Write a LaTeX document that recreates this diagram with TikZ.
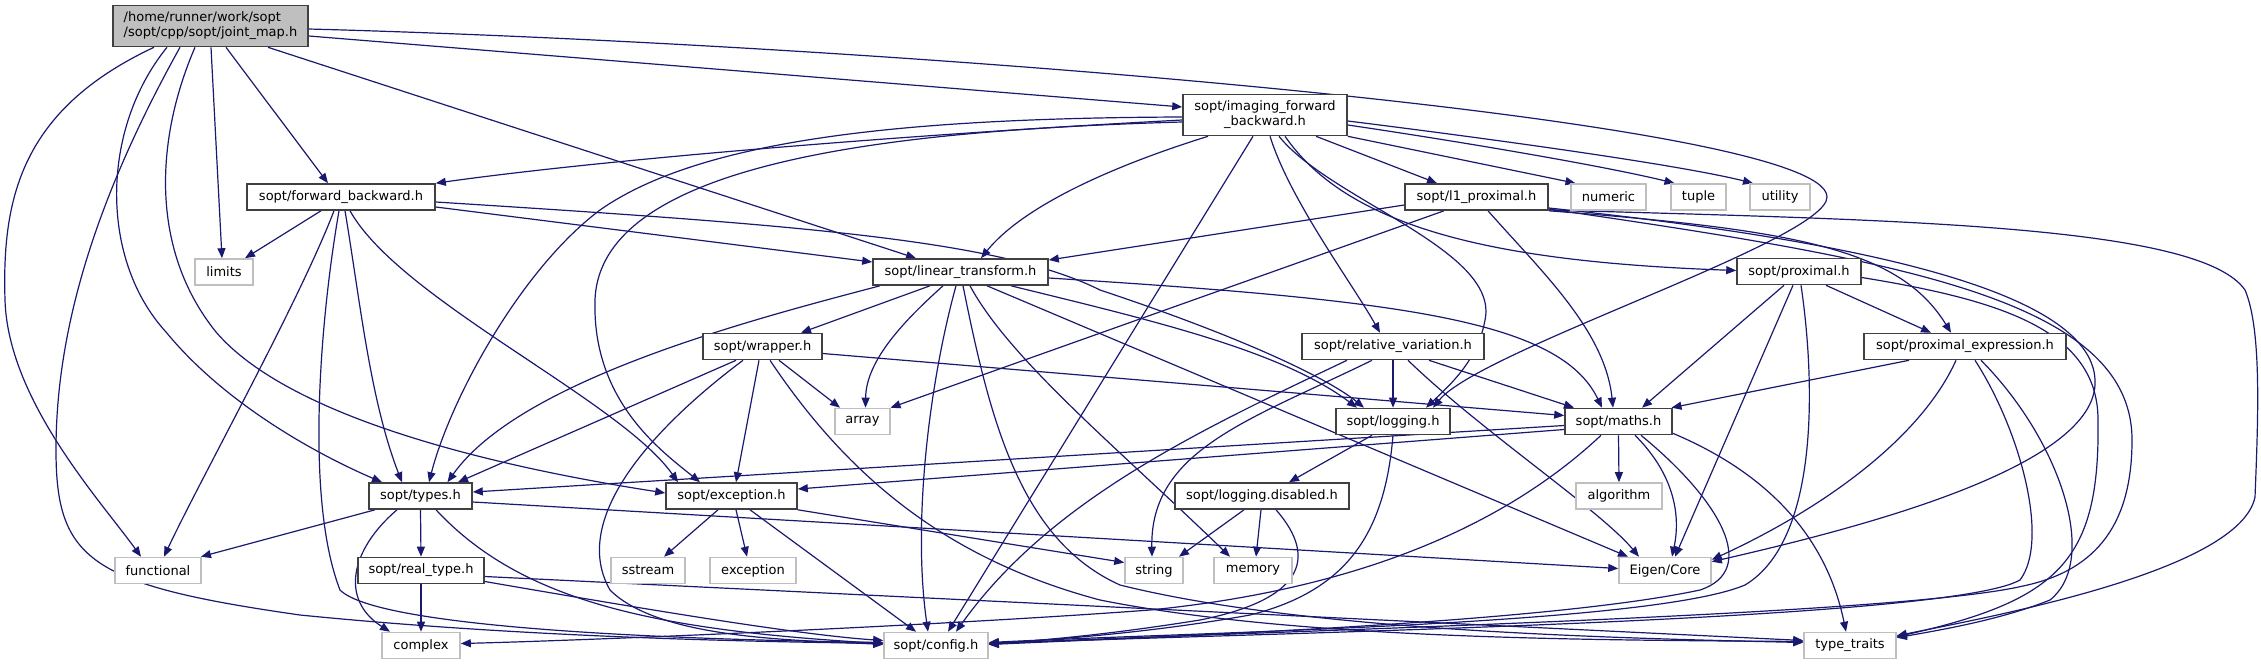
\documentclass[tikz,border=0pt]{standalone}
\usepackage{fontspec}
\setmainfont{DejaVu Sans}
\usetikzlibrary{arrows.meta,calc}
\definecolor{edgecol}{HTML}{191970}
\definecolor{docborder}{HTML}{404040}
\definecolor{extborder}{HTML}{BFBFBF}
\definecolor{rootfill}{HTML}{BFBFBF}
\newcommand\nodefont{\fontsize{13pt}{15pt}\selectfont}
\pgfdeclarelayer{bg}
\pgfsetlayers{bg,main}
\tikzset{
  nd/.style={draw=docborder, fill=white, line width=1.6pt, minimum height=26pt, inner sep=0pt, font=\nodefont},
  ext/.style={nd, draw=extborder},
  rootnode/.style={nd, fill=rootfill, align=left, minimum height=41pt},
  edge/.style={draw=edgecol, line width=1.2pt, -{Triangle[length=10pt,width=8pt]}},
}
\begin{document}
\begin{tikzpicture}[x=1pt,y=-1pt]
\useasboundingbox (0,0) rectangle (2261,664);
% nodes
\node[rootnode, minimum width=195pt] (root) at (210.5,26) {/home/runner/work/sopt\\/sopt/cpp/sopt/joint\_map.h};
\node[nd, align=center, minimum width=164pt, minimum height=41pt] (ifb) at (1265,115) {sopt/imaging\_forward\\\_backward.h};
\node[nd, minimum width=188pt] (fb) at (341,197) {sopt/forward\_backward.h};
\node[nd, minimum width=143pt] (l1) at (1476.5,197) {sopt/l1\_proximal.h};
\node[ext, minimum width=75pt] (numeric) at (1608.5,197) {numeric};
\node[ext, minimum width=55pt] (tuple) at (1698.5,197) {tuple};
\node[ext, minimum width=60pt] (utility) at (1780,197) {utility};
\node[ext, minimum width=58pt] (limits) at (224,272) {limits};
\node[nd, minimum width=175pt] (lt) at (960.5,272) {sopt/linear\_transform.h};
\node[nd, minimum width=124pt] (prox) at (1799,271.5) {sopt/proximal.h};
\node[nd, minimum width=119pt] (wrapper) at (762.5,346.5) {sopt/wrapper.h};
\node[nd, minimum width=182pt] (relvar) at (1393,346.5) {sopt/relative\_variation.h};
\node[nd, minimum width=202pt] (proxexpr) at (1965,346.5) {sopt/proximal\_expression.h};
\node[ext, minimum width=55pt] (array) at (862.5,421.5) {array};
\node[nd, minimum width=114pt] (logging) at (1393,421.5) {sopt/logging.h};
\node[nd, minimum width=107pt] (maths) at (1618.5,421.5) {sopt/maths.h};
\node[nd, minimum width=103pt] (types) at (420.5,496) {sopt/types.h};
\node[nd, minimum width=131pt] (exch) at (731.5,496) {sopt/exception.h};
\node[nd, minimum width=174pt] (logdis) at (1262,496) {sopt/logging.disabled.h};
\node[ext, minimum width=86pt] (algorithm) at (1619,496) {algorithm};
\node[ext, minimum width=86pt] (functional) at (158,570.5) {functional};
\node[nd, minimum width=126pt] (realtype) at (421,570.5) {sopt/real\_type.h};
\node[ext, minimum width=74pt] (sstream) at (648,570.5) {sstream};
\node[ext, minimum width=86pt] (excstd) at (753,570.5) {exception};
\node[ext, minimum width=58pt] (string) at (1154,570.5) {string};
\node[ext, minimum width=78pt] (memory) at (1253,570.5) {memory};
\node[ext, minimum width=92pt] (eigen) at (1665,570.5) {Eigen/Core};
\node[ext, minimum width=78pt] (complex) at (421,645.5) {complex};
\node[ext, minimum width=104pt] (config) at (936,645.5) {sopt/config.h};
\node[ext, minimum width=92pt] (typetraits) at (1850,645.5) {type\_traits};
\begin{pgfonlayer}{bg}
% root
\draw[edge] ($(root.east)+(0,10)$) -- ($(ifb.west)+(0,-8)$);
\draw[edge] ($(root.east)+(0,3)$) .. controls (900,45) and (1827,120) .. (1827,197) .. controls (1827,240) and (1480,350) .. ($(logging.north)+(40,0)$);
\draw[edge] ($(root.south)+(57.5,0)$) -- ($(lt.north)+(-44.5,0)$);
\draw[edge] ($(root.south)+(15.5,0)$) -- ($(fb.north)+(-13,0)$);
\draw[edge] ($(root.south)+(0.5,0)$) -- ($(limits.north)+(-2,0)$);
\draw[edge] ($(root.south)+(-56.5,0)$) .. controls (20,110) and (2,200) .. (5,300) .. controls (8,400) and (100,500) .. ($(functional.north)+(-17,0)$);
\draw[edge] ($(root.south)+(-30.5,0)$) .. controls (95,200) and (56,330) .. (56,450) .. controls (56,560) and (90,585) .. (300,615) .. controls (550,640) and (800,642) .. ($(config.west)+(0,-2)$);
\draw[edge] ($(root.south)+(-43.5,0)$) .. controls (100,130) and (100,260) .. (166,332) .. controls (230,410) and (330,460) .. ($(types.north)+(-38.5,0)$);
\draw[edge] ($(root.south)+(-15.5,0)$) .. controls (155,140) and (150,250) .. (216,332) .. controls (300,430) and (550,475) .. ($(exch.west)+(0,-3)$);
% forward_backward
\draw[edge] ($(fb.south)+(-20,0)$) -- ($(limits.north)+(21,0)$);
\draw[edge] ($(fb.south)+(-7,0)$) .. controls (300,300) and (200,480) .. ($(functional.north)+(6,0)$);
\draw[edge] ($(fb.south)+(-2,0)$) .. controls (320,320) and (305,500) .. (340,590) .. controls (380,630) and (700,640) .. ($(config.west)+(0,-3)$);
\draw[edge] ($(fb.south)+(4,0)$) .. controls (360,300) and (370,400) .. ($(types.north)+(-18.5,0)$);
\draw[edge] ($(fb.south)+(9,0)$) .. controls (400,300) and (620,400) .. ($(exch.north)+(-53.5,0)$);
\draw[edge] ($(fb.east)+(0,10)$) -- ($(lt.west)+(0,-10)$);
\draw[edge] ($(fb.east)+(0,5)$) .. controls (800,225) and (1000,240) .. (1100,290) .. controls (1250,340) and (1330,380) .. ($(logging.north)+(-29,0)$);
% imaging_forward_backward
\draw[edge] ($(ifb.west)+(0,5)$) .. controls (900,135) and (600,160) .. (fb.north east);
\draw[edge] ($(ifb.west)+(0,2)$) .. controls (900,118) and (700,140) .. (600,210) .. controls (520,270) and (450,400) .. ($(types.north)+(8.5,0)$);
\draw[edge] ($(ifb.west)+(0,7)$) .. controls (900,130) and (600,160) .. (595,300) .. controls (592,400) and (660,450) .. ($(exch.north)+(-31.5,0)$);
\draw[edge] ($(ifb.south)+(-57,0)$) .. controls (1100,170) and (1020,210) .. ($(lt.north)+(20.5,0)$);
\draw[edge] ($(ifb.south)+(-12,0)$) -- ($(config.north)+(12,0)$);
\draw[edge] ($(ifb.south)+(5,0)$) .. controls (1290,200) and (1350,280) .. ($(relvar.north)+(-13,0)$);
\draw[edge] ($(ifb.south)+(14,0)$) .. controls (1330,200) and (1500,250) .. (1485,320) .. controls (1478,360) and (1450,385) .. ($(logging.north)+(33,0)$);
\draw[edge] ($(ifb.south)+(20,0)$) .. controls (1350,230) and (1500,262) .. ($(prox.west)+(0,-1)$);
\draw[edge] ($(ifb.south)+(51,0)$) -- ($(l1.north)+(-39.5,0)$);
\draw[edge] (ifb.south east) -- ($(numeric.north)+(-33,0)$);
\draw[edge] ($(ifb.east)+(0,10)$) .. controls (1450,140) and (1600,165) .. ($(tuple.north)+(-24,0)$);
\draw[edge] ($(ifb.east)+(0,6)$) .. controls (1500,140) and (1680,165) .. ($(utility.north)+(-27,0)$);
% l1_proximal
\draw[edge] ($(l1.west)+(0,8)$) -- ($(lt.east)+(0,-12)$);
\draw[edge] ($(l1.south)+(-32.5,0)$) -- ($(array.north)+(28,0)$);
\draw[edge] ($(l1.south)+(11.5,0)$) .. controls (1540,270) and (1605,330) .. ($(maths.north)+(-5.5,0)$);
\draw[edge] (l1.south east) .. controls (1800,230) and (1900,250) .. ($(proxexpr.north)+(-14,0)$);
\draw[edge] ($(l1.east)+(0,11)$) .. controls (1850,240) and (2100,290) .. (2095,385) .. controls (2090,470) and (1850,530) .. ($(eigen.north east)+(0,5)$);
\draw[edge] ($(l1.east)+(0,12)$) .. controls (1900,260) and (2132,300) .. (2132,440) .. controls (2132,520) and (2100,570) .. (2023,586) .. controls (1900,615) and (1300,630) .. ($(config.east)+(0,-2)$);
\draw[edge] ($(l1.east)+(0,13)$) .. controls (1900,220) and (2200,225) .. (2245,290) .. controls (2262,330) and (2258,420) .. (2255,497) .. controls (2240,570) and (2000,615) .. ($(typetraits.north east)+(0,4)$);
% proximal
\draw[edge] ($(prox.south)+(-15,0)$) -- ($(maths.north)+(23.5,0)$);
\draw[edge] ($(prox.south)+(-6,0)$) -- ($(eigen.north)+(10,0)$);
\draw[edge] ($(prox.south)+(2,0)$) .. controls (1815,380) and (1820,540) .. (1745,585) .. controls (1650,625) and (1200,632) .. ($(config.east)+(0,-3)$);
\draw[edge] ($(prox.south)+(27,0)$) -- ($(proxexpr.north)+(-34,0)$);
\draw[edge] ($(prox.east)+(0,6)$) .. controls (2000,300) and (2098,330) .. (2098,420) .. controls (2100,560) and (2060,600) .. ($(typetraits.north east)+(0,5)$);
% proximal_expression
\draw[edge] ($(proxexpr.south)+(-56,0)$) -- ($(maths.north)+(53,0)$);
\draw[edge] ($(proxexpr.south)+(-9,0)$) .. controls (1920,440) and (1820,510) .. ($(eigen.north east)+(0,3)$);
\draw[edge] ($(proxexpr.south)+(10,0)$) .. controls (2020,430) and (2050,540) .. (2020,580) .. controls (1950,620) and (1300,632) .. ($(config.east)+(0,-2)$);
\draw[edge] ($(proxexpr.south)+(16,0)$) .. controls (2060,440) and (2100,560) .. (2050,600) .. controls (2000,620) and (1940,630) .. ($(typetraits.north east)+(0,6)$);
% maths
\draw[edge] ($(maths.west)+(0,4)$) -- ($(types.east)+(0,-4)$);
\draw[edge] ($(maths.west)+(0,8)$) -- ($(exch.east)+(0,-7)$);
\draw[edge] ($(maths.south)+(-17.5,0)$) .. controls (1500,530) and (1350,590) .. (1150,610) .. controls (950,625) and (600,640) .. ($(complex.east)+(0,-2)$);
\draw[edge] (maths.south) -- (algorithm.north);
\draw[edge] ($(maths.south)+(16.5,0)$) .. controls (1670,470) and (1682,510) .. ($(eigen.north)+(7,0)$);
\draw[edge] ($(maths.south)+(22.5,0)$) .. controls (1720,500) and (1760,570) .. (1700,590) .. controls (1550,622) and (1200,635) .. ($(config.east)+(0,-1)$);
\draw[edge] ($(maths.south east)+(0,-2)$) .. controls (1760,470) and (1825,530) .. ($(typetraits.north)+(-4,0)$);
% relative_variation
\draw[edge] (relvar.south) -- (logging.north);
\draw[edge] ($(relvar.south)+(36,0)$) -- ($(maths.north)+(-44.5,0)$);
\draw[edge] ($(relvar.south)+(15,0)$) .. controls (1480,430) and (1600,510) .. ($(eigen.north)+(-26,0)$);
\draw[edge] ($(relvar.south)+(-21,0)$) .. controls (1250,420) and (1150,450) .. ($(string.north)+(-2,0)$);
\draw[edge] ($(relvar.south)+(-46,0)$) .. controls (1200,430) and (1050,500) .. ($(config.north)+(20,0)$);
% logging
\draw[edge] ($(logging.south)+(-21,0)$) -- ($(logdis.north)+(27,0)$);
\draw[edge] (logging.south) .. controls (1385,530) and (1350,590) .. (1250,615) .. controls (1150,633) and (1050,640) .. ($(config.east)+(0,-2)$);
% logging.disabled
\draw[edge] ($(logdis.south)+(-18,0)$) -- ($(string.north)+(25,0)$);
\draw[edge] ($(logdis.south)+(-1,0)$) -- ($(memory.north)+(3,0)$);
\draw[edge] ($(logdis.south)+(14,0)$) .. controls (1320,560) and (1300,600) .. (1200,620) .. controls (1100,636) and (1040,640) .. ($(config.east)+(0,-1)$);
% wrapper
\draw[edge] ($(wrapper.south)+(-26.5,0)$) -- ($(types.north)+(37.5,0)$);
\draw[edge] ($(wrapper.south)+(-19.5,0)$) .. controls (650,430) and (570,520) .. (610,590) .. controls (660,640) and (800,640) .. ($(config.west)+(0,-1)$);
\draw[edge] ($(wrapper.south)+(-3.5,0)$) -- ($(exch.north)+(4.5,0)$);
\draw[edge] ($(wrapper.south)+(7.5,0)$) .. controls (850,480) and (950,560) .. (1100,600) .. controls (1300,640) and (1600,640) .. ($(typetraits.west)+(0,-4)$);
\draw[edge] ($(wrapper.south)+(16.5,0)$) -- ($(array.north)+(-22.5,0)$);
\draw[edge] ($(wrapper.east)+(0,7)$) -- ($(maths.west)+(0,-6)$);
% linear_transform
\draw[edge] ($(lt.south)+(-80.5,0)$) .. controls (750,320) and (520,380) .. ($(types.north)+(27,0)$);
\draw[edge] ($(lt.south)+(-30.5,0)$) -- ($(wrapper.north)+(38.5,0)$);
\draw[edge] ($(lt.south)+(-17.5,0)$) .. controls (905,320) and (866,360) .. ($(array.north)+(3,0)$);
\draw[edge] ($(lt.south)+(-4.5,0)$) .. controls (930,380) and (912,520) .. ($(config.north)+(-8,0)$);
\draw[edge] ($(lt.south)+(2.5,0)$) .. controls (990,420) and (1020,540) .. (1120,585) .. controls (1300,630) and (1600,638) .. ($(typetraits.west)+(0,-3)$);
\draw[edge] ($(lt.south)+(9.5,0)$) .. controls (1010,360) and (1120,450) .. ($(memory.north)+(-23,0)$);
\draw[edge] ($(lt.south)+(26.5,0)$) -- ($(eigen.north)+(-37,0)$);
\draw[edge] ($(lt.south)+(50.5,0)$) .. controls (1150,320) and (1280,350) .. ($(logging.north)+(-36,0)$);
\draw[edge] ($(lt.east)+(0,6)$) .. controls (1400,300) and (1560,320) .. ($(maths.north)+(-16.5,0)$);
% types
\draw[edge] ($(types.south)+(-45.5,0)$) -- ($(functional.north)+(43,0)$);
\draw[edge] ($(types.south)+(-23.5,0)$) .. controls (350,550) and (340,600) .. ($(complex.north)+(-31,0)$);
\draw[edge] (types.south) -- (realtype.north);
\draw[edge] ($(types.south)+(15.5,0)$) .. controls (520,600) and (650,630) .. ($(config.west)+(0,-2)$);
\draw[edge] ($(types.east)+(0,6)$) -- ($(eigen.west)+(0,-2)$);
% real_type
\draw[edge] (realtype.south) -- (complex.north);
\draw[edge] ($(realtype.east)+(0,11)$) .. controls (650,610) and (800,635) .. ($(config.west)+(0,-5)$);
\draw[edge] ($(realtype.east)+(0,6)$) -- ($(typetraits.west)+(0,-5)$);
% exception.h
\draw[edge] ($(exch.south)+(-13.5,0)$) -- ($(sstream.north)+(16,0)$);
\draw[edge] ($(exch.south)+(4.5,0)$) -- ($(excstd.north)+(-6,0)$);
\draw[edge] ($(exch.south)+(18.5,0)$) -- ($(config.north)+(-20,0)$);
\draw[edge] (exch.south east) -- ($(string.west)+(0,-8)$);
\end{pgfonlayer}
\end{tikzpicture}
\end{document}
